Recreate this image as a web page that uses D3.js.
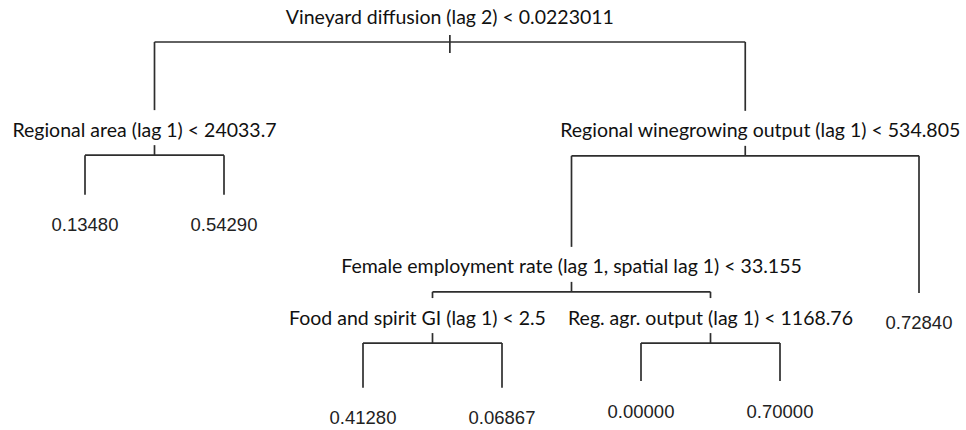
<!doctype html>
<html lang="en">
<head>
<meta charset="utf-8">
<title>Regression tree</title>
<script src="https://d3js.org/d3.v7.min.js"></script>
<style>
	body { margin: 0; background: #fff; }
	svg { display: block; }
	.split { font-family: Lato, "Open Sans", sans-serif; font-size: 19.5px; fill: #111; }
	.leaf { font-family: "Liberation Sans", Arial, sans-serif; font-size: 18.5px; fill: #222; }
	.edge { stroke: #2e2e2e; stroke-width: 1.7; fill: none; }
</style>
</head>
<body>
<div id="chart"></div>
<script>
	// rpart-style node ids: children of n are 2n and 2n+1
	var nodeIds = [1, 2, 4, 5, 3, 6, 12, 24, 25, 13, 26, 27, 7];
	var nodeLabels = [
		"Vineyard diffusion (lag 2) < 0.0223011",
		"Regional area (lag 1) < 24033.7",
		"0.13480",
		"0.54290",
		"Regional winegrowing output (lag 1) < 534.805",
		"Female employment rate (lag 1, spatial lag 1) < 33.155",
		"Food and spirit GI (lag 1) < 2.5",
		"0.41280",
		"0.06867",
		"Reg. agr. output (lag 1) < 1168.76",
		"0.00000",
		"0.70000",
		"0.72840"
	];
	// vertical position of each node (deviance units)
	var nodeDeviance = [100, 68.4, 57.3, 57.3, 68.2, 30.2, 15.9, 3.4, 3.4, 15.9, 5.3, 5.3, 29.9];

	var width = 966, height = 430;
	// labels that sit a little off their node in the original figure
	var labelNudge = { 2: -10, 3: 15, 12: -15 };

	var rows = nodeIds.map(function (id, i) {
		return { id: id, parent: id === 1 ? null : Math.floor(id / 2), label: nodeLabels[i], dev: nodeDeviance[i] };
	});

	var root = d3.stratify()
		.id(function (d) { return d.id; })
		.parentId(function (d) { return d.parent; })(rows);
	root.sort(function (a, b) { return a.data.id - b.data.id; });

	var leaves = root.leaves();

	// leaves evenly spaced, internal nodes halfway between their children
	var x = d3.scalePoint()
		.domain(leaves.map(function (d) { return d.data.id; }))
		.range([85, 919]);
	var y = d3.scaleLinear().domain([0, 100]).range([400, 42]);

	root.eachAfter(function (d) {
		if (d.children) d.x = d3.mean(d.children, function (c) { return c.x; });
		else d.x = x(d.data.id);
		d.y = y(d.data.dev);
	});

	var svg = d3.select("#chart").append("svg")
		.attr("width", width)
		.attr("height", height);

	var internal = root.descendants().filter(function (d) { return d.children; });

	// horizontal bar of each split
	svg.selectAll(".hbar")
		.data(internal)
		.enter().append("line")
		.attr("class", "edge")
		.attr("x1", function (d) { return d.children[0].x; })
		.attr("x2", function (d) { return d.children[1].x; })
		.attr("y1", function (d) { return d.y; })
		.attr("y2", function (d) { return d.y; });

	// verticals from the bar down to each child (stop above split labels)
	svg.selectAll(".vbar")
		.data(root.links())
		.enter().append("line")
		.attr("class", "edge")
		.attr("x1", function (d) { return d.target.x; })
		.attr("x2", function (d) { return d.target.x; })
		.attr("y1", function (d) { return d.source.y; })
		.attr("y2", function (d) { return d.target.children ? d.target.y - 45 : d.target.y; });

	// small tick joining each split label to its bar
	svg.selectAll(".tick")
		.data(internal)
		.enter().append("line")
		.attr("class", "edge")
		.attr("x1", function (d) { return d.x; })
		.attr("x2", function (d) { return d.x; })
		.attr("y1", function (d) { return d.depth === 0 ? d.y - 7 : d.y - 10; })
		.attr("y2", function (d) { return d.depth === 0 ? d.y + 11 : d.y; });

	svg.selectAll(".split")
		.data(internal)
		.enter().append("text")
		.attr("class", "split")
		.attr("x", function (d) { return d.x + (labelNudge[d.data.id] || 0); })
		.attr("y", function (d) { return d.y - 26; })
		.attr("text-anchor", "middle")
		.attr("dominant-baseline", "central")
		.text(function (d) { return d.data.label; });

	svg.selectAll(".leaf")
		.data(leaves)
		.enter().append("text")
		.attr("class", "leaf")
		.attr("x", function (d) { return d.x; })
		.attr("y", function (d) { return d.y + 30; })
		.attr("text-anchor", "middle")
		.attr("dominant-baseline", "central")
		.text(function (d) { return d.data.label; });
</script>
</body>
</html>
